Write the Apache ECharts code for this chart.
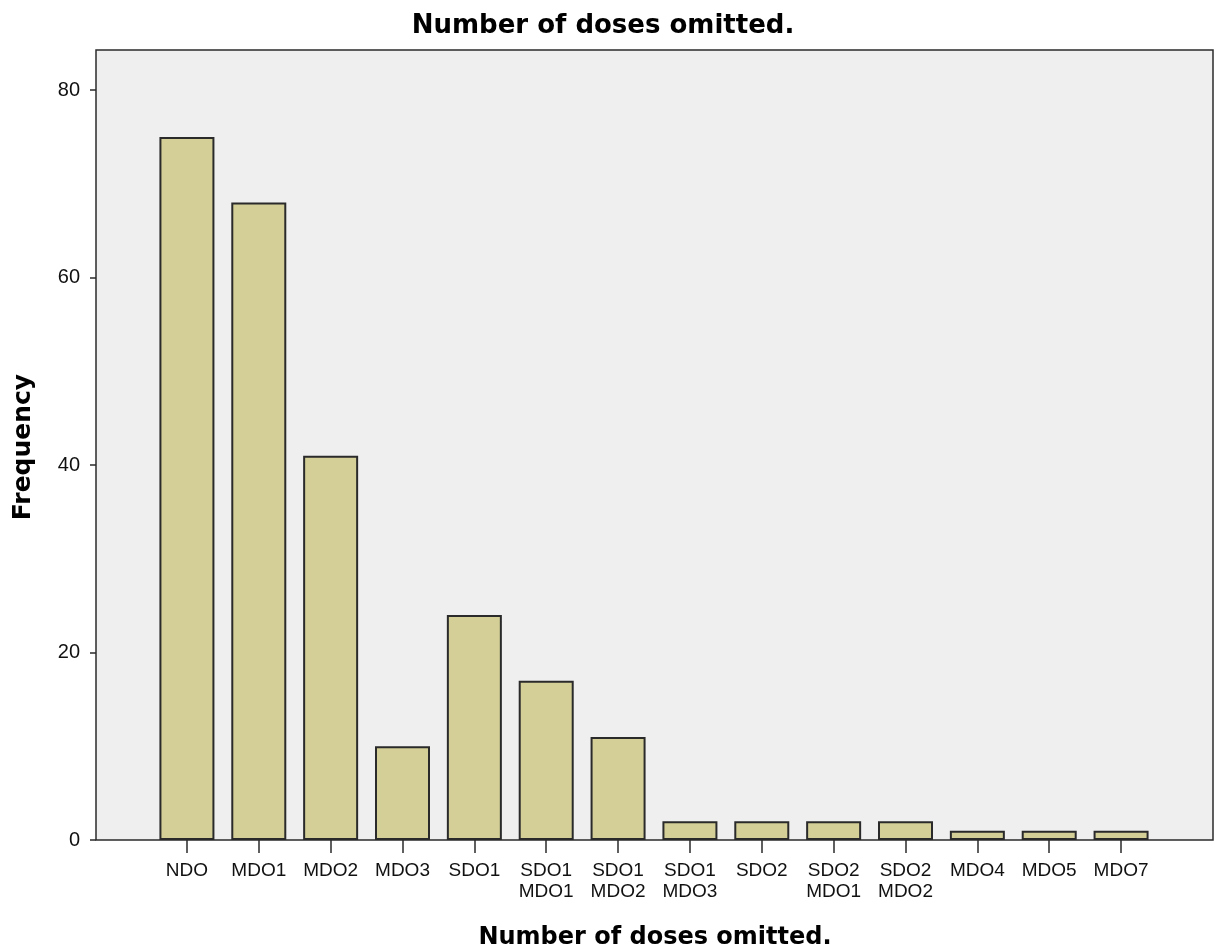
<!DOCTYPE html>
<html>
<head>
<meta charset="utf-8">
<script src="https://cdn.jsdelivr.net/npm/echarts@6/dist/echarts.min.js"></script>
<style>html,body{margin:0;padding:0;background:#fff;}#c{width:1221px;height:951px;}</style>
</head>
<body>
<div id="c"></div>
<script>
const categories = ['NDO','MDO1','MDO2','MDO3','SDO1','SDO1\nMDO1','SDO1\nMDO2','SDO1\nMDO3','SDO2','SDO2\nMDO1','SDO2\nMDO2','MDO4','MDO5','MDO7'];
const frequency = [75, 68, 41, 10, 24, 17, 11, 2, 2, 2, 2, 1, 1, 1];
const yTicks = [0, 20, 40, 60, 80];
const titleText = 'Number of doses omitted.';
const xName = 'Number of doses omitted.';
const yName = 'Frequency';

const yMax = 84.27;
const chart = echarts.init(document.getElementById('c'));
const axisColor = '#2b2b2b';
chart.setOption({
  animation: false,
  backgroundColor: '#ffffff',
  grid: [
    {left: 96, right: 8, top: 50, bottom: 111, show: true, backgroundColor: '#efefef', borderColor: axisColor, borderWidth: 1.5},
    {left: 151, right: 64, top: 50, bottom: 111, show: false}
  ],
  xAxis: [
    {gridIndex: 0, type: 'value', min: 0, max: 1, show: false},
    {gridIndex: 1, type: 'category', data: categories, boundaryGap: true,
     axisLine: {show: false},
     axisTick: {show: true, alignWithLabel: true, length: 13, lineStyle: {color: axisColor, width: 1.5}},
     axisLabel: {interval: 0, margin: 20, color: '#111', fontFamily: 'Liberation Sans, Arial, sans-serif', fontSize: 19, lineHeight: 21}}
  ],
  yAxis: [
    {gridIndex: 0, type: 'value', min: 0, max: yMax, interval: 20,
     axisLine: {show: false},
     splitLine: {show: false},
     axisTick: {show: true, length: 6, lineStyle: {color: axisColor, width: 1.5},
       customValues: yTicks},
     axisLabel: {margin: 16, color: '#111', fontFamily: 'Liberation Sans, Arial, sans-serif', fontSize: 20,
       customValues: yTicks}},
    {gridIndex: 1, type: 'value', min: 0, max: yMax, show: false}
  ],
  series: [{
    type: 'bar', xAxisIndex: 1, yAxisIndex: 1,
    data: frequency, barWidth: 55,
    itemStyle: {color: '#d3cf97', borderColor: '#2a2a2a', borderWidth: 2}
  }],
  graphic: [
    {type: 'text', x: 603, y: 13, style: {text: titleText, fontFamily: 'DejaVu Sans, sans-serif', fontWeight: 'bold', fontSize: 26, fill: '#000', textAlign: 'center', textVerticalAlign: 'top'}},
    {type: 'text', x: 655, y: 926, style: {text: xName, fontFamily: 'DejaVu Sans, sans-serif', fontWeight: 'bold', fontSize: 24, fill: '#000', textAlign: 'center', textVerticalAlign: 'top'}},
    {type: 'text', x: 11, y: 447, rotation: Math.PI/2, style: {text: yName, fontFamily: 'DejaVu Sans, sans-serif', fontWeight: 'bold', fontSize: 25, fill: '#000', textAlign: 'center', textVerticalAlign: 'top'}}
  ]
});
</script>
</body>
</html>
